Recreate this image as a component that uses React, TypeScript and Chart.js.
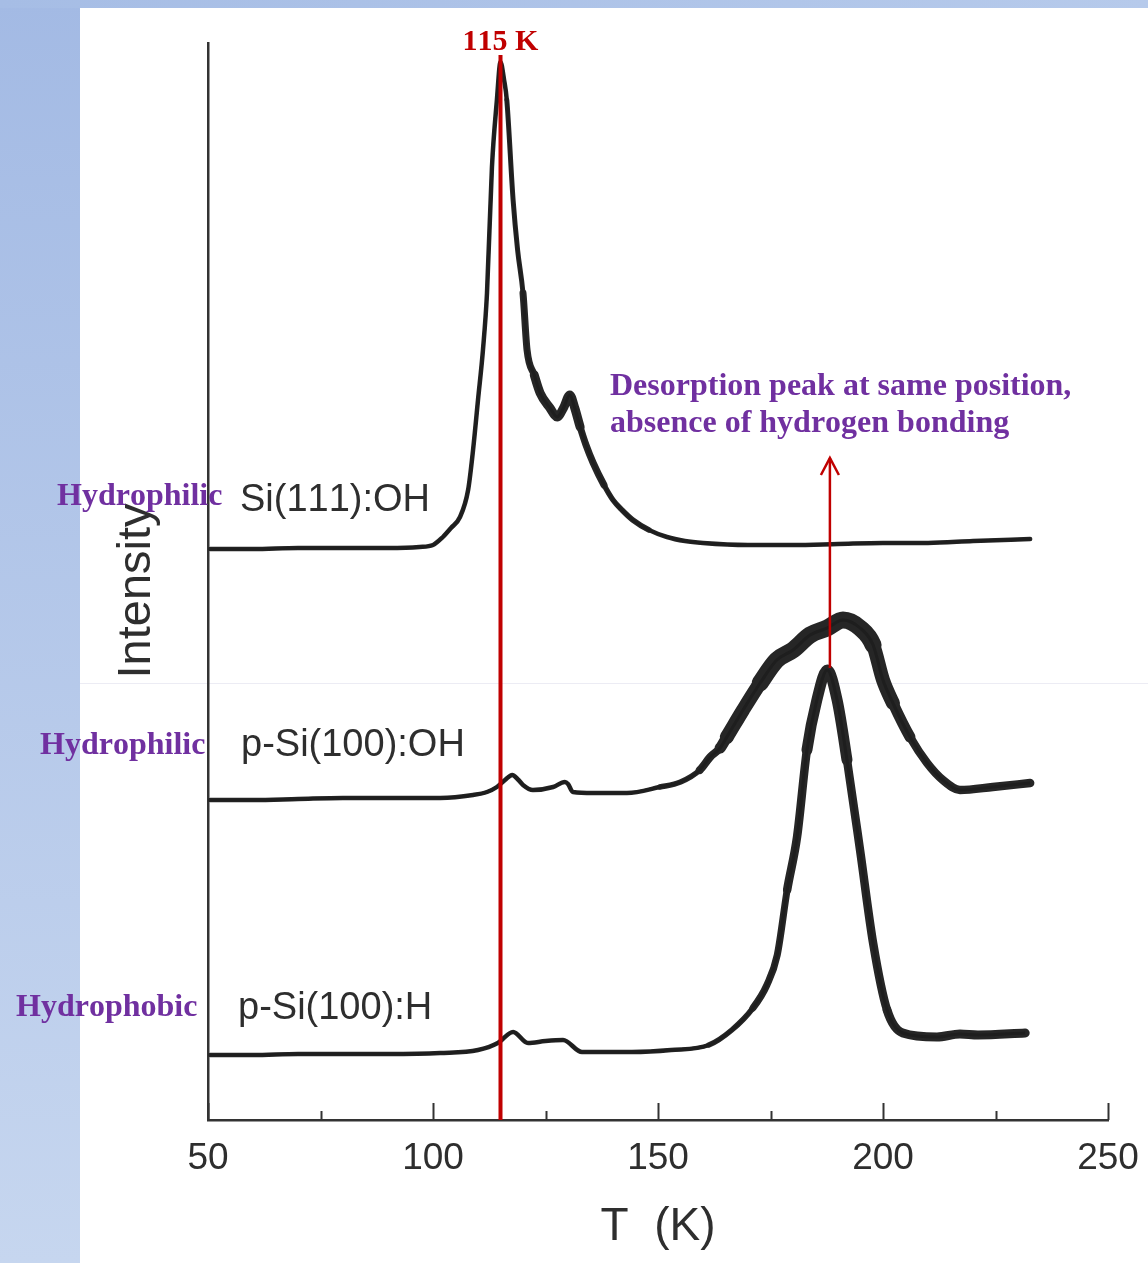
import React, { useEffect, useRef } from 'react';
import { Chart, registerables } from 'chart.js';

Chart.register(...registerables);

// ---- data (temperature in K, intensity in arbitrary offset units) ----
const xMin = 50;
const xMax = 250;
const xTickStep = 25;
const xLabelStep = 50;

const si111T = [50.5, 60, 70, 80, 90, 97, 100, 102.2, 104, 106, 107.8, 108.9, 110, 111.1, 112, 113.1, 114.2, 115, 115.8, 116.4, 117.8, 118.8, 120, 120.9, 122.5, 123.8, 126, 127.6, 129, 130.4, 131.5, 132.7, 134, 135.6, 138, 140, 142, 144.4, 148, 152, 156, 160, 170, 180, 190, 200, 210, 220, 232.7];
const si111I = [571, 571, 572, 572, 572, 573, 575, 583, 592, 603, 630, 670, 720, 770, 827, 953, 1020, 1058, 1040, 1020, 920, 870, 827, 770, 745, 727, 712, 703, 712, 725, 712, 693, 675, 657, 635, 620, 610, 600, 590, 583, 579, 577, 575, 575, 576, 577, 577, 579, 581];

const pSiOHT = [50.5, 60, 70, 80, 90, 101.6, 108.9, 112, 114.2, 116, 117.6, 119, 120, 122.2, 126.7, 129.3, 130, 131.1, 135.6, 143.1, 150.4, 155, 159.3, 161.6, 163.8, 165.3, 168.9, 172.7, 176.4, 180, 183.8, 187.6, 191.1, 194.9, 197.8, 200, 202.2, 206, 209.8, 213.3, 217.1, 224.4, 232.7];
const pSiOHI = [320, 320, 321, 322, 322, 322, 325, 328, 333, 340, 345, 340, 335, 330, 333, 338, 336, 328, 327, 327, 333, 338, 350, 363, 372, 383, 410, 437, 460, 470, 485, 492, 500, 492, 475, 440, 417, 383, 357, 340, 330, 333, 337];

const pSiHT = [50.5, 60, 70, 80, 90, 101.6, 110, 114.4, 117.8, 121.1, 125, 128.9, 133.1, 144.2, 152.9, 161.3, 166.4, 171.1, 174.2, 176.5, 178.7, 180.9, 183.1, 185.3, 187.6, 189.8, 192, 194.9, 197.8, 200.9, 204.4, 212, 217.1, 221.1, 231.6];
const pSiHI = [65, 65, 66, 66, 66, 67, 70, 77, 88, 77, 79, 80, 68, 68, 70, 75, 90, 112, 135, 165, 230, 283, 370, 420, 450, 420, 360, 270, 177, 110, 87, 83, 86, 85, 87];

const peakLineT = 115;
const peakLineI = [0, 1065];
const arrowT = 188.2;
const arrowI = [452, 662];

const traceLabels = ['Si(111):OH', 'p-Si(100):OH', 'p-Si(100):H'];
const wettingLabels = ['Hydrophilic', 'Hydrophilic', 'Hydrophobic'];
const noteLines = ['Desorption peak at same position,', 'absence of hydrogen bonding'];
const peakLabel = '115 K';
const xTitle = 'T  (K)';
const yTitle = 'Intensity';

// noise-band widths of each trace, by temperature range [from, to, width]
const si111Band: [number, number, number][] = [[117, 120, 5], [120, 123, 7], [123, 133, 9], [133, 138, 7], [138, 150, 5.5]];
const pSiOHBand: [number, number, number][] = [[148, 158, 5.5], [158, 163, 8], [163, 167, 11], [167, 171, 14], [171, 198, 17], [198, 202, 14], [202, 206, 11], [206, 240, 8.5]];
const pSiHBand: [number, number, number][] = [[160, 170, 5.5], [170, 178, 7], [178, 184, 8.5], [184, 191, 11], [191, 202, 8.5], [202, 240, 9]];

const pts = (t: number[], v: number[]) => t.map((x, i) => ({ x, y: v[i] }));

const AXIS = '#333333';
const TEXT = '#2e2e2e';
const TRACE = '#1e1e1e';
const HALO = '#262626';
const RED = '#c00000';
const PURPLE = '#7030a0';
const SANS = '"Liberation Sans", Arial, sans-serif';
const SERIF = '"Liberation Serif", "Times New Roman", serif';

export default function App() {
  const ref = useRef<HTMLCanvasElement | null>(null);

  useEffect(() => {
    if (!ref.current) return;

    const overlay = {
      id: 'overlay',
      afterDatasetsDraw(chart: any) {
        const { ctx, chartArea, scales } = chart;
        const xs = scales.x;
        const ys = scales.y;
        ctx.save();
        (ctx as any).fontKerning = 'none';
        // inward tick marks
        ctx.strokeStyle = AXIS;
        ctx.lineWidth = 2;
        for (let v = xMin; v <= xMax; v += xTickStep) {
          const px = Math.round(xs.getPixelForValue(v)) + 0.5;
          const len = v % xLabelStep === 0 ? 17 : 9;
          ctx.beginPath();
          ctx.moveTo(px, chartArea.bottom);
          ctx.lineTo(px, chartArea.bottom - len);
          ctx.stroke();
        }
        // arrow
        const ax = xs.getPixelForValue(arrowT);
        const ay0 = ys.getPixelForValue(arrowI[0]);
        const ay1 = ys.getPixelForValue(arrowI[1]);
        ctx.strokeStyle = RED;
        ctx.lineWidth = 2.5;
        ctx.beginPath();
        ctx.moveTo(ax, ay0);
        ctx.lineTo(ax, ay1);
        ctx.stroke();
        ctx.beginPath();
        ctx.moveTo(ax - 9, ay1 + 17);
        ctx.lineTo(ax, ay1);
        ctx.lineTo(ax + 9, ay1 + 17);
        ctx.stroke();

        // y title
        ctx.fillStyle = TEXT;
        ctx.font = `47px ${SANS}`;
        ctx.translate(150, 591);
        ctx.rotate(-Math.PI / 2);
        ctx.textAlign = 'center';
        ctx.textBaseline = 'alphabetic';
        ctx.fillText(yTitle, 0, 0);
        ctx.setTransform(1, 0, 0, 1, 0, 0);

        // trace labels
        ctx.textAlign = 'left';
        ctx.font = `38px ${SANS}`;
        ctx.fillStyle = TEXT;
        ctx.fillText(traceLabels[0], 240, 511);
        ctx.fillText(traceLabels[1], 241, 756);
        ctx.fillText(traceLabels[2], 238, 1019);

        // peak label
        ctx.fillStyle = RED;
        ctx.font = `bold 30px ${SERIF}`;
        ctx.textAlign = 'center';
        ctx.fillText(peakLabel, xs.getPixelForValue(peakLineT), 50);

        // purple annotations
        ctx.fillStyle = PURPLE;
        ctx.font = `bold 32px ${SERIF}`;
        ctx.textAlign = 'left';
        ctx.fillText(wettingLabels[0], 57, 505);
        ctx.fillText(wettingLabels[1], 40, 754);
        ctx.fillText(wettingLabels[2], 16, 1016);
        ctx.fillText(noteLines[0], 610, 395);
        ctx.fillText(noteLines[1], 610, 432);
        ctx.restore();
      },
    };

    const widthFor = (ranges: [number, number, number][], base: number) => (c: any) => {
      const x = (c.p0.parsed.x + c.p1.parsed.x) / 2;
      for (const [a, b, w] of ranges) if (x >= a && x < b) return w;
      return base;
    };

    const band = (t: number[], v: number[], ranges: [number, number, number][]) => ({
      data: pts(t, v),
      borderColor: HALO,
      borderWidth: 4.5,
      borderCapStyle: 'round',
      borderJoinStyle: 'round',
      pointRadius: 0,
      cubicInterpolationMode: 'monotone',
      segment: { borderWidth: widthFor(ranges, 4.5) },
    });
    const core = (t: number[], v: number[]) => ({
      data: pts(t, v),
      borderColor: TRACE,
      borderWidth: 3,
      borderJoinStyle: 'round',
      pointRadius: 0,
      cubicInterpolationMode: 'monotone',
    });

    const chart = new Chart(ref.current, {
      type: 'line',
      data: {
        datasets: [
          {
            data: pts([peakLineT, peakLineT], peakLineI),
            borderColor: RED,
            borderWidth: 4,
            pointRadius: 0,
          },
          core(si111T, si111I),
          core(pSiOHT, pSiOHI),
          core(pSiHT, pSiHI),
          band(si111T, si111I, si111Band),
          band(pSiOHT, pSiOHI, pSiOHBand),
          band(pSiHT, pSiHI, pSiHBand),
        ],
      },
      options: {
        animation: false,
        responsive: false,
        devicePixelRatio: 1,
        layout: { padding: { left: 0, right: 40, top: 43, bottom: 0 } },
        plugins: { legend: { display: false }, tooltip: { enabled: false } },
        scales: {
          x: {
            type: 'linear',
            min: xMin,
            max: xMax,
            ticks: {
              stepSize: xTickStep,
              autoSkip: false,
              maxRotation: 0,
              padding: 17,
              color: TEXT,
              font: { family: SANS, size: 37 },
              callback: (v: any) => (Number(v) % xLabelStep === 0 ? String(v) : ''),
            },
            grid: { display: true, drawOnChartArea: false, drawTicks: false },
            border: { display: true, color: AXIS, width: 2.5 },
            title: {
              display: true,
              text: xTitle,
              color: TEXT,
              font: { family: SANS, size: 46 },
              padding: { top: 0, bottom: 8 },
            },
            afterFit: (s: any) => {
              s.height = 143;
              s.paddingLeft = 0;
              s.paddingRight = 0;
            },
          },
          y: {
            type: 'linear',
            min: 0,
            max: 1077,
            ticks: { display: false },
            grid: { display: true, drawOnChartArea: false, drawTicks: false },
            border: { display: true, color: AXIS, width: 2.5 },
            afterFit: (s: any) => {
              s.width = 208;
              s.paddingTop = 0;
              s.paddingBottom = 0;
            },
          },
        },
      },
      plugins: [overlay],
    } as any);

    return () => chart.destroy();
  }, []);

  return (
    <div style={{ position: 'absolute', left: 0, top: 0, width: 1148, height: 1263, background: '#ffffff', overflow: 'hidden' }}>
      <div style={{ position: 'absolute', left: 0, top: 0, width: 80, height: 1263, background: 'linear-gradient(to bottom, #a3bae4, #c6d6ef)' }} />
      <div style={{ position: 'absolute', left: 0, top: 0, width: 1148, height: 8, background: 'linear-gradient(to right, #a6bde5, #b6caeb)' }} />
      <div style={{ position: 'absolute', left: 80, top: 683, width: 1068, height: 1, background: '#ececf4' }} />
      <canvas ref={ref} width={1148} height={1263} style={{ position: 'absolute', left: 0, top: 0, width: 1148, height: 1263 }} />
    </div>
  );
}
